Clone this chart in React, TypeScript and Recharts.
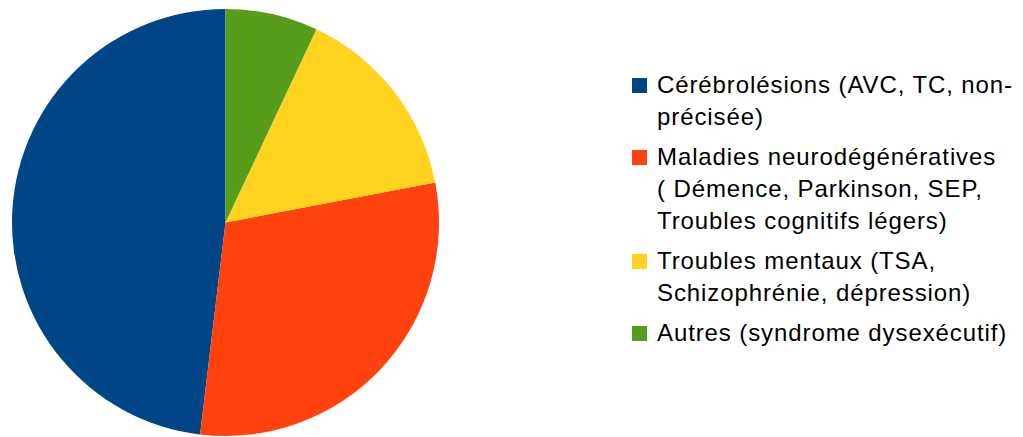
import { PieChart, Pie, Cell, Legend } from 'recharts'

const categories = [
  'Cérébrolésions (AVC, TC, non-précisée)',
  'Maladies neurodégénératives (\u00a0Démence, Parkinson, SEP, Troubles cognitifs légers)',
  'Troubles mentaux (TSA, Schizophrénie, dépression)',
  'Autres (syndrome dysexécutif)',
]
const shares = [48.1, 29.9, 15.0, 7.0]
const COLORS = ['#004586', '#ff420e', '#ffd320', '#579d1c']

const chartData = categories.map((name, i) => ({ name, value: shares[i], color: COLORS[i] }))

const renderLegend = () => (
  <div style={{ fontFamily: '"Liberation Sans", Arial, sans-serif', fontSize: 24, letterSpacing: 0.9, color: '#000' }}>
    {chartData.map((entry) => (
      <div key={entry.name} style={{ display: 'flex', alignItems: 'flex-start', marginBottom: 8 }}>
        <span
          style={{
            width: 15,
            height: 15,
            marginTop: 9,
            marginRight: 10,
            flex: 'none',
            backgroundColor: entry.color,
          }}
        />
        <span style={{ width: 362, lineHeight: '32px' }}>{entry.name}</span>
      </div>
    ))}
  </div>
)

export default function App() {
  return (
    <div style={{ width: 1023, height: 437 }}>
      <style>{'body{margin:0}'}</style>
      <PieChart width={1023} height={437} margin={{ top: 0, right: 0, bottom: 0, left: 0 }}>
        <Pie
          data={chartData}
          dataKey="value"
          cx={225.5}
          cy={222.5}
          outerRadius={213.5}
          startAngle={90}
          endAngle={450}
          stroke="none"
          isAnimationActive={false}
        >
          {chartData.map((entry, index) => (
            <Cell key={`cell-${index}`} fill={entry.color} />
          ))}
        </Pie>
        <Legend
          layout="vertical"
          content={renderLegend}
          wrapperStyle={{ left: 632, top: 69, width: 391, bottom: 'auto' }}
        />
      </PieChart>
    </div>
  )
}
